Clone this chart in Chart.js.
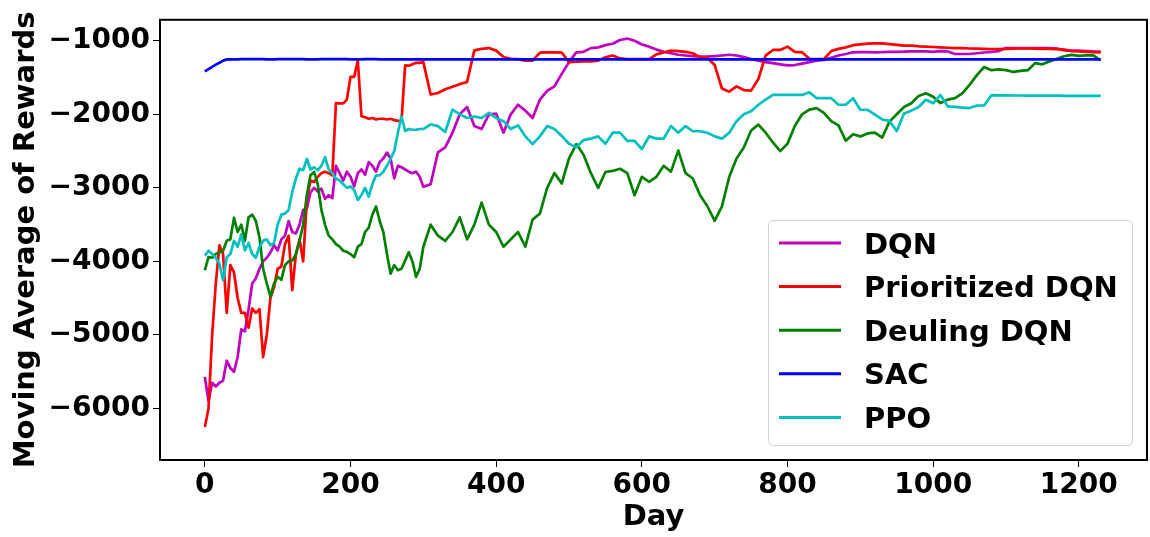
<!DOCTYPE html>
<html>
<head>
<meta charset="utf-8">
<title>Moving Average of Rewards</title>
<script src="https://cdn.jsdelivr.net/npm/chart.js@4.4.1/dist/chart.umd.min.js"></script>
<style>
  html, body { margin: 0; padding: 0; background: #fff; }
  #wrap { width: 1150px; height: 537px; }
</style>
</head>
<body>
<div id="wrap"><canvas id="rewardsChart" width="1150" height="537"></canvas></div>
<script>
// ---- data: moving average of rewards per day ----
// 5-day spacing for the first 300 days, 10-day spacing afterwards
const days = [
  0, 5, 10, 15, 20, 25, 30, 35, 40, 45,
  50, 55, 60, 65, 70, 75, 80, 85, 90, 95,
  100, 105, 110, 115, 120, 125, 130, 135, 140, 145,
  150, 155, 160, 165, 170, 175, 180, 185, 190, 195,
  200, 205, 210, 215, 220, 225, 230, 235, 240, 245,
  250, 255, 260, 265, 270, 275, 280, 285, 290, 295,
  300,
  310, 320, 330, 340, 350, 360, 370, 380, 390, 400,
  410, 420, 430, 440, 450, 460, 470, 480, 490, 500,
  510, 520, 530, 540, 550, 560, 570, 580, 590, 600,
  610, 620, 630, 640, 650, 660, 670, 680, 690, 700,
  710, 720, 730, 740, 750, 760, 770, 780, 790, 800,
  810, 820, 830, 840, 850, 860, 870, 880, 890, 900,
  910, 920, 930, 940, 950, 960, 970, 980, 990, 1000,
  1010, 1020, 1030, 1040, 1050, 1060, 1070, 1080, 1090, 1100,
  1110, 1120, 1130, 1140, 1150, 1160, 1170, 1180, 1190, 1200,
  1210, 1220, 1230
];

const dqn = [
  -5570, -5900, -5650, -5700, -5650, -5620, -5350, -5450, -5500, -5300,
  -4925, -4950, -4650, -4300, -4230, -4100, -4000, -3950, -3880, -3780,
  -3850, -3700, -3650, -3453, -3600, -3620, -3500, -3300, -3280, -3060,
  -3000, -3050, -3010, -3150, -3100, -3140, -2700, -2800, -2900, -2780,
  -2850, -2980, -2800, -2750, -2820, -2650, -2700, -2780, -2650, -2600,
  -2520, -2600, -2870, -2700, -2720, -2750, -2780, -2800, -2780, -2850,
  -2985,
  -2950, -2517, -2450, -2250, -2000, -1900, -2160, -2200, -2000, -1990,
  -2250, -2000, -1870, -1950, -2050, -1800, -1680, -1620, -1450, -1290,
  -1157, -1150, -1100, -1090, -1060, -1040, -990, -970, -1000, -1050,
  -1080, -1120, -1150, -1170, -1190, -1200, -1210, -1214, -1214, -1210,
  -1200, -1190, -1200, -1223, -1250, -1270, -1290, -1304, -1320, -1335,
  -1330, -1310, -1290, -1270, -1260, -1230, -1200, -1180, -1157, -1155,
  -1155, -1157, -1155, -1150, -1150, -1148, -1145, -1143, -1143, -1150,
  -1140, -1145, -1180, -1180, -1180, -1170, -1160, -1150, -1140, -1100,
  -1100, -1100, -1099, -1100, -1100, -1100, -1105, -1130, -1134, -1134,
  -1140, -1145, -1147
];

const prioritizedDqn = [
  -6250, -6000, -5000, -4300, -3780, -3900, -4700, -4050, -4150, -4500,
  -4700, -4700, -4900, -4640, -4700, -4650, -5300, -5000, -4500, -4350,
  -4100, -4070, -3765, -3650, -4390, -3900, -3700, -4000, -3150, -2900,
  -2920, -2850, -2800, -2780, -2800, -2830, -1848, -1850, -1850, -1800,
  -1491, -1491, -1268, -2026, -2040, -2060, -2050, -2070, -2060, -2060,
  -2070, -2060, -2080, -2090, -2090, -1335, -1340, -1320, -1300, -1300,
  -1290,
  -1730, -1710, -1660, -1625, -1590, -1560, -1130, -1110, -1099, -1134,
  -1220, -1245, -1250, -1270, -1270, -1160, -1157, -1157, -1160, -1290,
  -1285, -1280, -1280, -1270, -1225, -1200, -1240, -1250, -1250, -1250,
  -1250, -1185, -1160, -1134, -1140, -1150, -1170, -1225, -1230, -1330,
  -1650, -1692, -1620, -1670, -1678, -1520, -1200, -1125, -1125, -1080,
  -1150, -1157, -1245, -1250, -1250, -1140, -1110, -1090, -1060, -1050,
  -1040, -1035, -1036, -1045, -1055, -1065, -1067, -1075, -1080, -1085,
  -1090, -1095, -1099, -1100, -1105, -1108, -1110, -1112, -1112, -1110,
  -1108, -1105, -1105, -1108, -1110, -1112, -1115, -1120, -1140, -1145,
  -1150, -1155, -1157
];

const deulingDqn = [
  -4120, -3940, -3950, -3900, -3880, -3855, -3720, -3700, -3408, -3600,
  -3500, -3720, -3400, -3364, -3450, -3675, -4100, -4300, -4478, -4300,
  -4210, -4250, -4050, -4000, -3990, -3900, -3720, -3498, -3096, -2829,
  -2784, -2950, -3300, -3500, -3650, -3700, -3765, -3800, -3855, -3870,
  -3900, -3943, -3800, -3765, -3600, -3540, -3364, -3253, -3450, -3600,
  -3900, -4167, -4050, -4120, -4100, -3990, -3876, -4000, -4210, -4100,
  -3800,
  -3500, -3650, -3720, -3600, -3400, -3700, -3500, -3200, -3500, -3600,
  -3800, -3700, -3600, -3800, -3430, -3350, -3000, -2800, -2940, -2600,
  -2405, -2550, -2800, -3000, -2784, -2770, -2740, -2800, -3100, -2850,
  -2918, -2850, -2700, -2780, -2494, -2800, -2873, -3100, -3250, -3450,
  -3250, -2850, -2600, -2450, -2220, -2140, -2250, -2383, -2500, -2400,
  -2160, -2000, -1937, -1915, -1980, -2093, -2150, -2360, -2271, -2300,
  -2260, -2250, -2316, -2100, -2000, -1900, -1850, -1750, -1714, -1760,
  -1848, -1800, -1780, -1714, -1600, -1468, -1357, -1400, -1390, -1400,
  -1424, -1410, -1400, -1304, -1320, -1280, -1245, -1210, -1192, -1205,
  -1200, -1200, -1268
];

const sac = [
  -1415, -1385, -1355, -1325, -1300, -1270, -1254, -1253, -1252, -1252,
  -1251, -1251, -1250, -1250, -1250, -1251, -1251, -1252, -1252, -1252,
  -1251, -1251, -1250, -1250, -1250, -1250, -1251, -1251, -1252, -1252,
  -1252, -1252, -1251, -1251, -1251, -1250, -1250, -1250, -1251, -1251,
  -1252, -1252, -1252, -1252, -1251, -1251, -1251, -1251, -1252, -1252,
  -1252, -1252, -1252, -1252, -1252, -1252, -1252, -1252, -1252, -1252,
  -1252,
  -1252, -1252, -1252, -1253, -1253, -1253, -1253, -1253, -1253, -1253,
  -1253, -1253, -1253, -1253, -1253, -1253, -1253, -1253, -1253, -1253,
  -1253, -1253, -1253, -1253, -1253, -1254, -1254, -1254, -1254, -1254,
  -1254, -1254, -1254, -1254, -1254, -1254, -1254, -1254, -1254, -1254,
  -1254, -1254, -1254, -1254, -1254, -1254, -1254, -1254, -1254, -1254,
  -1254, -1254, -1254, -1254, -1254, -1254, -1254, -1254, -1254, -1254,
  -1254, -1254, -1254, -1254, -1254, -1254, -1254, -1254, -1254, -1254,
  -1254, -1254, -1254, -1254, -1254, -1254, -1254, -1254, -1254, -1254,
  -1254, -1254, -1254, -1254, -1254, -1254, -1254, -1254, -1254, -1254,
  -1254, -1254, -1254
];

const ppo = [
  -3920, -3855, -3900, -3950, -4033, -4256, -3943, -3900, -3720, -3800,
  -3632, -3850, -3750, -3900, -3950, -3800, -3720, -3700, -3780, -3750,
  -3498, -3364, -3350, -3300, -3052, -2873, -2740, -2760, -2605, -2750,
  -2720, -2760, -2700, -2583, -2750, -2800, -2873, -2900, -2950, -3000,
  -2980, -3030, -3163, -3100, -3000, -3119, -2950, -2829, -2830, -2780,
  -2700, -2605, -2500, -2250, -2030, -2227, -2200, -2210, -2210, -2200,
  -2200,
  -2137, -2160, -2240, -1937, -2000, -2050, -2030, -2050, -1980, -2050,
  -2093, -2200, -2150, -2300, -2405, -2300, -2160, -2200, -2294, -2400,
  -2450, -2350, -2330, -2300, -2400, -2250, -2250, -2360, -2360, -2472,
  -2300, -2330, -2330, -2160, -2250, -2160, -2230, -2230, -2250, -2300,
  -2330, -2250, -2093, -2000, -1960, -1870, -1800, -1736, -1736, -1736,
  -1736, -1736, -1700, -1781, -1781, -1781, -1870, -1870, -1781, -1937,
  -1940, -2003, -2070, -2090, -2227, -1990, -1950, -1900, -1803, -1850,
  -1736, -1892, -1900, -1910, -1915, -1880, -1880, -1740, -1742, -1742,
  -1744, -1744, -1745, -1745, -1746, -1746, -1747, -1748, -1748, -1749,
  -1750, -1750, -1750
];

const seriesNames  = ["DQN", "Prioritized DQN", "Deuling DQN", "SAC", "PPO"];
const seriesValues = [dqn, prioritizedDqn, deulingDqn, sac, ppo];
const seriesColors = ["#bf00bf", "#ff0000", "#008000", "#0000ff", "#00bfbf"];

const xTicks = [0, 200, 400, 600, 800, 1000, 1200];
const yTicks = [-6000, -5000, -4000, -3000, -2000, -1000];

// axis ranges (5% margin around the data)
const X_MIN = -61.6, X_MAX = 1293.6;
const Y_MIN = -6700, Y_MAX = -715;

const FONT = "'DejaVu Sans', 'Liberation Sans', sans-serif";
const tickFont  = { family: FONT, size: 28, weight: "bold" };
const titleFont = { family: FONT, size: 29, weight: "bold" };

const fmt = v => (v < 0 ? "\u2212" + Math.abs(v) : String(v));

// frame around the plot area
const frame = {
  id: "frame",
  afterDraw(chart) {
    const { ctx, chartArea: a } = chart;
    ctx.save();
    ctx.strokeStyle = "#000";
    ctx.lineWidth = 2;
    ctx.strokeRect(a.left, a.top, a.right - a.left, a.bottom - a.top);
    ctx.restore();
  }
};

// legend box in the lower right corner of the plot
const boxLegend = {
  id: "boxLegend",
  afterDraw(chart) {
    const { ctx } = chart;
    const x = 768, y = 220, w = 364, h = 225, r = 5;
    const rowY = 243, rowGap = 43.6;
    ctx.save();
    ctx.beginPath();
    ctx.roundRect(x + 0.5, y + 0.5, w, h, r);
    ctx.fillStyle = "rgba(255,255,255,0.8)";
    ctx.fill();
    ctx.strokeStyle = "#d0d0d0";
    ctx.lineWidth = 1;
    ctx.stroke();

    ctx.font = "bold 29px " + FONT;
    ctx.textBaseline = "alphabetic";
    ctx.textAlign = "left";
    chart.data.datasets.forEach((ds, i) => {
      const ly = rowY + i * rowGap;
      ctx.strokeStyle = ds.borderColor;
      ctx.lineWidth = 3;
      ctx.beginPath();
      ctx.moveTo(779, ly);
      ctx.lineTo(841, ly);
      ctx.stroke();
      ctx.fillStyle = "#000";
      ctx.fillText(ds.label, 864, ly + 10.5);
    });
    ctx.restore();
  }
};

const datasets = seriesNames.map((name, i) => ({
  label: name,
  data: days.map((d, k) => ({ x: d, y: seriesValues[i][k] })),
  borderColor: seriesColors[i],
  backgroundColor: seriesColors[i],
  borderWidth: 2.7,
  borderJoinStyle: "round",
  pointRadius: 0,
  tension: 0,
  fill: false,
  order: seriesNames.length - i   // later series drawn on top
}));

new Chart(document.getElementById("rewardsChart"), {
  type: "line",
  data: { datasets },
  options: {
    responsive: false,
    animation: false,
    devicePixelRatio: 1,
    layout: { padding: { top: 12, right: 3, left: 0, bottom: 0 } },
    plugins: {
      legend: { display: false },
      tooltip: { enabled: false }
    },
    scales: {
      x: {
        type: "linear",
        min: X_MIN,
        max: X_MAX,
        afterFit: s => { s.height = 77; },
        afterBuildTicks: s => { s.ticks = xTicks.map(v => ({ value: v })); },
        border: { display: false },
        grid: { drawOnChartArea: false, drawTicks: true, tickLength: 7, color: "#000", lineWidth: 1 },
        ticks: {
          padding: 2, color: "#000", font: tickFont,
          maxRotation: 0, autoSkip: false, callback: v => fmt(v)
        },
        title: { display: true, text: "Day", color: "#000", font: titleFont, padding: { top: 0, bottom: 2 } }
      },
      y: {
        type: "linear",
        min: Y_MIN,
        max: Y_MAX,
        afterFit: s => { s.width = 160; },
        afterBuildTicks: s => { s.ticks = yTicks.map(v => ({ value: v })); },
        border: { display: false },
        grid: { drawOnChartArea: false, drawTicks: true, tickLength: 7, color: "#000", lineWidth: 1 },
        ticks: { padding: 3, color: "#000", font: tickFont, autoSkip: false, callback: v => fmt(v) },
        title: {
          display: true, text: "Moving Average of Rewards", color: "#000",
          font: titleFont, padding: { top: 9, bottom: 0 }
        }
      }
    }
  },
  plugins: [frame, boxLegend]
});
</script>
</body>
</html>
